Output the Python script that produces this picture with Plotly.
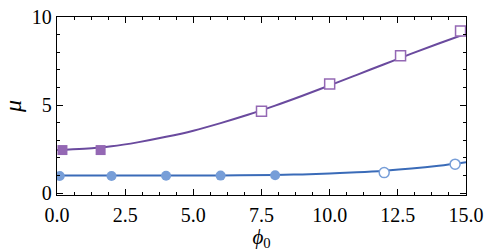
import plotly.graph_objects as go

# purple series (squares)
sq_fill_x = [0.2, 1.6]
sq_fill_y = [2.45, 2.45]
sq_open_x = [7.5, 10.0, 12.6, 14.8]
sq_open_y = [4.65, 6.2, 7.8, 9.2]
purple_curve_x = [0, 1, 2, 3, 4, 5, 6, 7, 8, 9, 10, 11, 12, 13, 14, 15]
purple_curve_y = [2.45, 2.52, 2.66, 2.9, 3.2, 3.55, 3.98, 4.45, 4.97, 5.53, 6.12, 6.72, 7.32, 7.92, 8.5, 9.06]

# blue series (circles)
ci_fill_x = [0.1, 2.0, 4.0, 6.0, 8.0]
ci_fill_y = [0.98, 0.98, 0.99, 1.0, 1.02]
ci_open_x = [12.0, 14.6]
ci_open_y = [1.17, 1.65]
blue_curve_x = [0, 2, 4, 6, 8, 9, 10, 11, 12, 13, 14, 15]
blue_curve_y = [1.0, 1.0, 1.0, 1.01, 1.04, 1.07, 1.12, 1.19, 1.28, 1.4, 1.56, 1.76]

x_ticks = [0, 2.5, 5, 7.5, 10, 12.5, 15]
x_ticklabels = ["0.0", "2.5", "5.0", "7.5", "10.0", "12.5", "15.0"]
y_ticks = [0, 5, 10]
y_ticklabels = ["0", "5", "10"]

PURPLE_LINE = "#6a4a9e"
PURPLE_MK = "#9468b4"
BLUE_LINE = "#3a6bb8"
BLUE_MK = "#779ed8"

fig = go.Figure()
fig.add_trace(go.Scatter(x=purple_curve_x, y=purple_curve_y, mode="lines",
                         line=dict(color=PURPLE_LINE, width=2, shape="spline")))
fig.add_trace(go.Scatter(x=blue_curve_x, y=blue_curve_y, mode="lines",
                         line=dict(color=BLUE_LINE, width=2, shape="spline")))
fig.add_trace(go.Scatter(x=sq_fill_x, y=sq_fill_y, mode="markers",
                         marker=dict(symbol="square", size=10, color=PURPLE_MK)))
fig.add_trace(go.Scatter(x=sq_open_x, y=sq_open_y, mode="markers",
                         marker=dict(symbol="square", size=10, color="white",
                                     line=dict(color=PURPLE_MK, width=1.5))))
fig.add_trace(go.Scatter(x=ci_fill_x, y=ci_fill_y, mode="markers",
                         marker=dict(symbol="circle", size=10, color=BLUE_MK)))
fig.add_trace(go.Scatter(x=ci_open_x, y=ci_open_y, mode="markers",
                         marker=dict(symbol="circle", size=10, color="white",
                                     line=dict(color=BLUE_MK, width=1.5))))

font = "Liberation Serif"
axis_common = dict(showline=True, linecolor="black", linewidth=1.3, mirror="ticks",
                   ticks="inside", ticklen=6, tickwidth=1.2, tickcolor="black",
                   showgrid=False, zeroline=False, automargin=False,
                   tickfont=dict(family=font, size=20, color="black"))
fig.update_layout(
    width=493, height=251,
    margin=dict(l=57, r=27, t=17, b=56),
    paper_bgcolor="white", plot_bgcolor="white",
    showlegend=False,
    xaxis=dict(range=[0, 15], tickvals=x_ticks, ticktext=x_ticklabels,
               minor=dict(dtick=0.625, ticks="inside", ticklen=3, tickwidth=1, tickcolor="black"),
               title=dict(text="<i>ϕ</i><sub>0</sub>", font=dict(family=font, size=21, color="black"),
                          standoff=2),
               ticklabelstandoff=2,
               **axis_common),
    yaxis=dict(range=[-0.1, 10], tickvals=y_ticks, ticktext=y_ticklabels,
               minor=dict(dtick=1, ticks="inside", ticklen=3, tickwidth=1, tickcolor="black"),
               title=dict(text="<i>μ</i>", font=dict(family=font, size=24, color="black"),
                          standoff=10),
               ticklabeloverflow="allow",
               **axis_common),
)
# remove the default 8px page margin so the figure fills the window exactly
fig.write_html("out.html", config={"displayModeBar": False},
               post_script="document.body.style.margin='0';")
